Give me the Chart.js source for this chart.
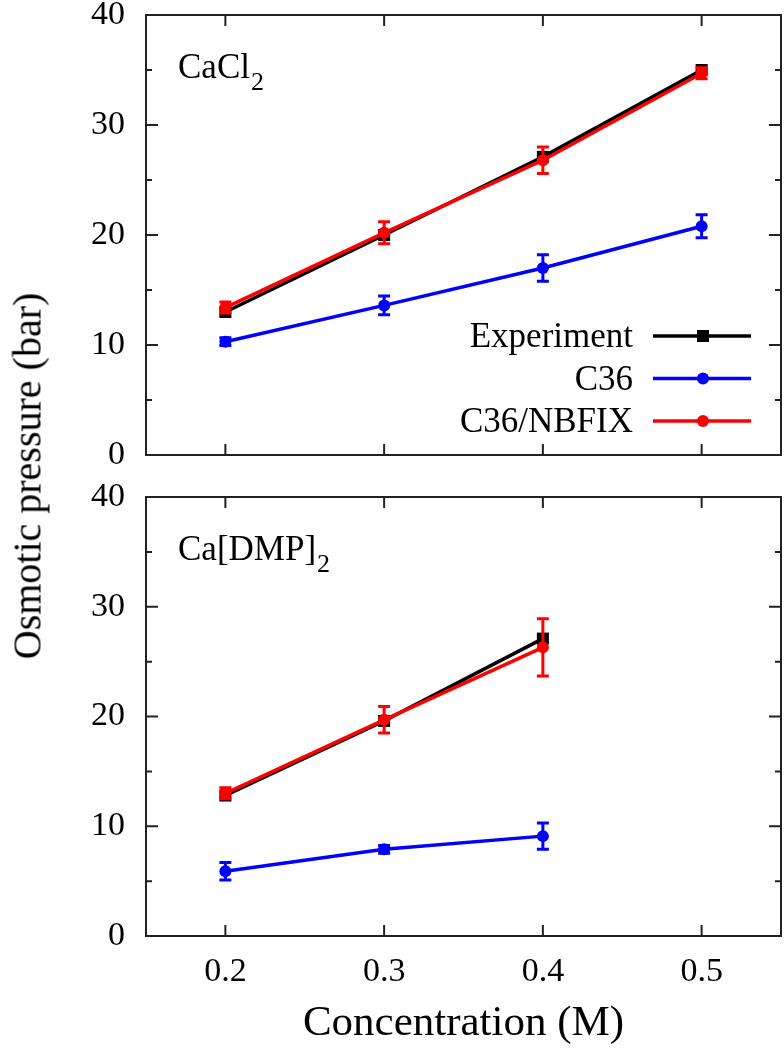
<!DOCTYPE html>
<html>
<head>
<meta charset="utf-8">
<script src="https://cdn.jsdelivr.net/npm/chart.js@4.4.1/dist/chart.umd.min.js"></script>
<style>
  body { margin: 0; background: #fff; width: 784px; height: 1050px; position: relative; overflow: hidden; font-family: "Liberation Serif", serif; }
  #topChart { position: absolute; left: 0; top: 0; }
  #botChart { position: absolute; left: 0; top: 480px; }
  #ytitle { position: absolute; left: 27px; top: 476px; transform: translate(-50%, -50%) rotate(-90deg); font-size: 40px; white-space: nowrap; color: #000; }
</style>
</head>
<body>
<canvas id="topChart" width="784" height="470"></canvas>
<canvas id="botChart" width="784" height="570"></canvas>
<div id="ytitle">Osmotic pressure (bar)</div>
<script>
// data
const xTicks = [0.2, 0.3, 0.4, 0.5];
const yTicks = [0, 10, 20, 30, 40];
const yMinor = [5, 15, 25, 35];
const seriesNames = ["Experiment", "C36", "C36/NBFIX"];

// CaCl2 panel
const cacl2X = [0.2, 0.3, 0.4, 0.5];
const cacl2Exp = [13.0, 20.0, 27.1, 35.0];
const cacl2C36 = [10.3, 13.6, 17.0, 20.8];
const cacl2C36Err = [0.35, 0.85, 1.2, 1.05];
const cacl2Nbfix = [13.4, 20.2, 26.8, 34.7];
const cacl2NbfixErr = [0.5, 1.0, 1.2, 0.5];

// Ca[DMP]2 panel
const dmpX = [0.2, 0.3, 0.4];
const dmpExp = [12.8, 19.6, 27.1];
const dmpC36 = [5.9, 7.9, 9.1];
const dmpC36Err = [0.8, 0.35, 1.2];
const dmpNbfix = [13.0, 19.7, 26.3];
const dmpNbfixErr = [0.5, 1.2, 2.6];

const colors = ["#000000", "#0000ff", "#ff0000"];
const styles = ["rect", "circle", "circle"];
const radii = [8.5, 6, 6];
const FONT = "Liberation Serif";

function pts(xs, ys) {
  return xs.map((x, i) => ({ x: x, y: ys[i] }));
}

function makeDatasets(xs, exp, c36, c36Err, nb, nbErr) {
  const vals = [exp, c36, nb];
  const errs = [null, c36Err, nbErr];
  return vals.map((v, i) => ({
    label: seriesNames[i],
    data: pts(xs, v),
    err: errs[i],
    borderColor: colors[i],
    backgroundColor: colors[i],
    borderWidth: 3.5,
    pointStyle: styles[i],
    pointRadius: radii[i],
    pointBorderWidth: 0,
    order: 3 - i
  }));
}

// vertical error bars with caps
const errorBars = {
  id: "errorBars",
  afterDatasetDraw(chart, args) {
    const ds = chart.data.datasets[args.index];
    if (!ds.err) return;
    const xs = chart.scales.x, ys = chart.scales.y, ctx = chart.ctx;
    ctx.save();
    ctx.strokeStyle = ds.borderColor;
    ctx.lineWidth = 3;
    ds.data.forEach((p, i) => {
      const px = xs.getPixelForValue(p.x);
      const y1 = ys.getPixelForValue(p.y - ds.err[i]);
      const y2 = ys.getPixelForValue(p.y + ds.err[i]);
      ctx.beginPath();
      ctx.moveTo(px, y1); ctx.lineTo(px, y2);
      ctx.moveTo(px - 6, y1); ctx.lineTo(px + 6, y1);
      ctx.moveTo(px - 6, y2); ctx.lineTo(px + 6, y2);
      ctx.stroke();
    });
    ctx.restore();
  }
};

// gnuplot-like frame with inward ticks on all sides
const frame = {
  id: "frame",
  beforeDatasetsDraw(chart) {
    const { ctx, chartArea: a } = chart;
    const xs = chart.scales.x, ys = chart.scales.y;
    ctx.save();
    ctx.strokeStyle = "#222";
    ctx.lineWidth = 2;
    ctx.strokeRect(a.left, a.top, a.right - a.left, a.bottom - a.top);
    ctx.beginPath();
    yTicks.forEach(v => {
      const y = ys.getPixelForValue(v);
      ctx.moveTo(a.left, y); ctx.lineTo(a.left + 12, y);
      ctx.moveTo(a.right, y); ctx.lineTo(a.right - 12, y);
    });
    yMinor.forEach(v => {
      const y = ys.getPixelForValue(v);
      ctx.moveTo(a.left, y); ctx.lineTo(a.left + 6, y);
      ctx.moveTo(a.right, y); ctx.lineTo(a.right - 6, y);
    });
    xTicks.forEach(v => {
      const x = xs.getPixelForValue(v);
      ctx.moveTo(x, a.bottom); ctx.lineTo(x, a.bottom - 11);
      ctx.moveTo(x, a.top); ctx.lineTo(x, a.top + 11);
    });
    ctx.stroke();
    ctx.restore();
  }
};

// panel label with subscript
const panelLabel = {
  id: "panelLabel",
  afterDraw(chart, args, opts) {
    const { ctx, chartArea: a } = chart;
    ctx.save();
    ctx.fillStyle = "#000";
    ctx.textBaseline = "alphabetic";
    ctx.font = "35px " + FONT;
    const x = 178, y = a.top + 63;
    ctx.fillText(opts.text, x, y);
    const w = ctx.measureText(opts.text).width;
    ctx.font = "26px " + FONT;
    ctx.fillText(opts.sub, x + w + 1, y + 12);
    ctx.restore();
  }
};

// legend: text right-aligned, then line sample with marker
const sideLegend = {
  id: "sideLegend",
  afterDraw(chart, args, opts) {
    if (!opts.show) return;
    const ctx = chart.ctx;
    ctx.save();
    chart.data.datasets.forEach((ds, i) => {
      const y = 336 + i * 42.5;
      ctx.fillStyle = "#000";
      ctx.font = "35px " + FONT;
      ctx.textAlign = "right";
      ctx.textBaseline = "middle";
      ctx.fillText(ds.label, 633, y + 2);
      ctx.strokeStyle = ds.borderColor;
      ctx.lineWidth = 3.5;
      ctx.beginPath();
      ctx.moveTo(653, y); ctx.lineTo(751, y);
      ctx.stroke();
      ctx.fillStyle = ds.backgroundColor;
      Chart.helpers.drawPoint(ctx, { pointStyle: ds.pointStyle, radius: ds.pointRadius, borderWidth: 0 }, 703, y);
    });
    ctx.restore();
  }
};

function makeChart(id, datasets, label, sub, bottom) {
  return new Chart(document.getElementById(id), {
    type: "line",
    data: { datasets: datasets },
    plugins: [frame, errorBars, panelLabel, sideLegend],
    options: {
      responsive: false,
      animation: false,
      layout: { autoPadding: false, padding: { left: 0, right: 3, top: bottom ? 17 : 15, bottom: 0 } },
      plugins: {
        legend: { display: false },
        tooltip: { enabled: false },
        panelLabel: { text: label, sub: sub },
        sideLegend: { show: !bottom }
      },
      scales: {
        x: {
          type: "linear",
          min: 0.15,
          max: 0.55,
          afterBuildTicks: s => { s.ticks = xTicks.map(v => ({ value: v })); },
          afterFit: s => { s.height = bottom ? 114 : 15; s.paddingLeft = 0; s.paddingRight = 0; },
          grid: { display: false, drawTicks: false },
          border: { display: false },
          ticks: {
            display: bottom,
            padding: 16,
            color: "#000",
            font: { family: FONT, size: 34 },
            callback: v => v.toFixed(1)
          },
          title: {
            display: bottom,
            text: "Concentration (M)",
            color: "#000",
            font: { family: FONT, size: 43, lineHeight: 1.2 },
            padding: { top: 0, bottom: 0 }
          }
        },
        y: {
          min: 0,
          max: 40,
          afterBuildTicks: s => { s.ticks = yTicks.map(v => ({ value: v })); },
          afterFit: s => { s.width = 146; s.paddingTop = 0; s.paddingBottom = 0; },
          grid: { display: false, drawTicks: false },
          border: { display: false },
          ticks: {
            padding: 21,
            color: "#000",
            font: { family: FONT, size: 34 }
          }
        }
      }
    }
  });
}

makeChart("topChart", makeDatasets(cacl2X, cacl2Exp, cacl2C36, cacl2C36Err, cacl2Nbfix, cacl2NbfixErr), "CaCl", "2", false);
makeChart("botChart", makeDatasets(dmpX, dmpExp, dmpC36, dmpC36Err, dmpNbfix, dmpNbfixErr), "Ca[DMP]", "2", true);
</script>
</body>
</html>
